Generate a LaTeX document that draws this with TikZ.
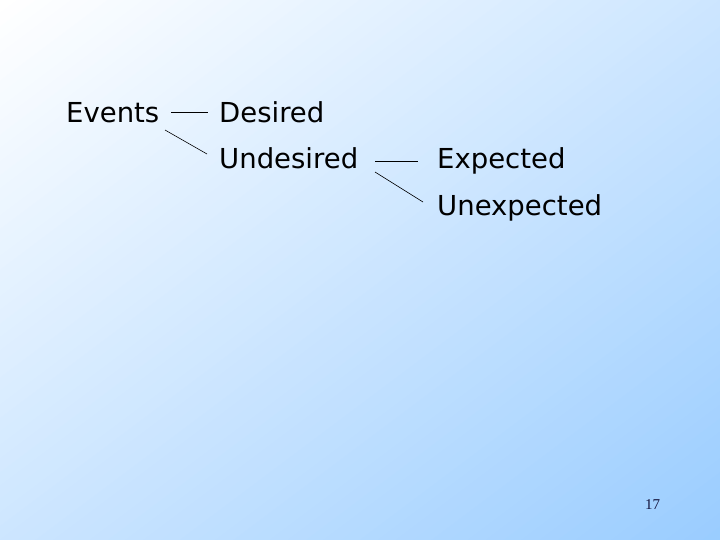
\documentclass[tikz,border=0pt]{standalone}
\usepackage{fontspec}
\setmainfont{DejaVu Sans}
\newfontfamily\numfont{Liberation Serif}
\definecolor{bgblue}{RGB}{153,204,255}
\definecolor{numcol}{RGB}{20,20,60}
\begin{document}
\begin{tikzpicture}[x=1pt,y=-1pt,
  lbl/.style={anchor=base west,inner sep=0pt,font=\fontsize{27.5}{33}\selectfont},
  conn/.style={line width=0.6pt,black}]
\useasboundingbox (0,0) rectangle (720,540);
\begin{scope}
\clip (0,0) rectangle (720,540);
\fill[white] (0,0) rectangle (720,540);
\foreach \i in {1,...,80}{
  \pgfmathsetmacro{\tt}{\i/80}
  \pgfmathsetmacro{\pc}{100*\i/80}
  \fill[bgblue!\pc!white] ({720*\tt+1440},{540*\tt-1080}) -- ({720*\tt-1440},{540*\tt+1080}) -- (0,2200) -- (2900,0) -- cycle;
}
\end{scope}
\node[lbl] (events) at (66,123) {Events};
\node[lbl] (desired) at (219,123) {Desired};
\node[lbl] (undesired) at (219,169) {Undesired};
\node[lbl] (expected) at (437,169) {Expected};
\node[lbl] (unexpected) at (437,215) {Unexpected};
\node[anchor=base west,inner sep=0pt,font=\numfont\fontsize{15}{18}\selectfont,text=numcol] (pagenum) at (645,509) {17};
\draw[conn] ([shift={(105,-11)}]events.base west) -- ([shift={(-11,-11)}]desired.base west);
\draw[conn] ([shift={(99,7)}]events.base west) -- ([shift={(-12,-15)}]undesired.base west);
\draw[conn] ([shift={(156,-8)}]undesired.base west) -- ([shift={(-19,-8)}]expected.base west);
\draw[conn] ([shift={(156,3)}]undesired.base west) -- ([shift={(-14,-13)}]unexpected.base west);
\end{tikzpicture}
\end{document}
